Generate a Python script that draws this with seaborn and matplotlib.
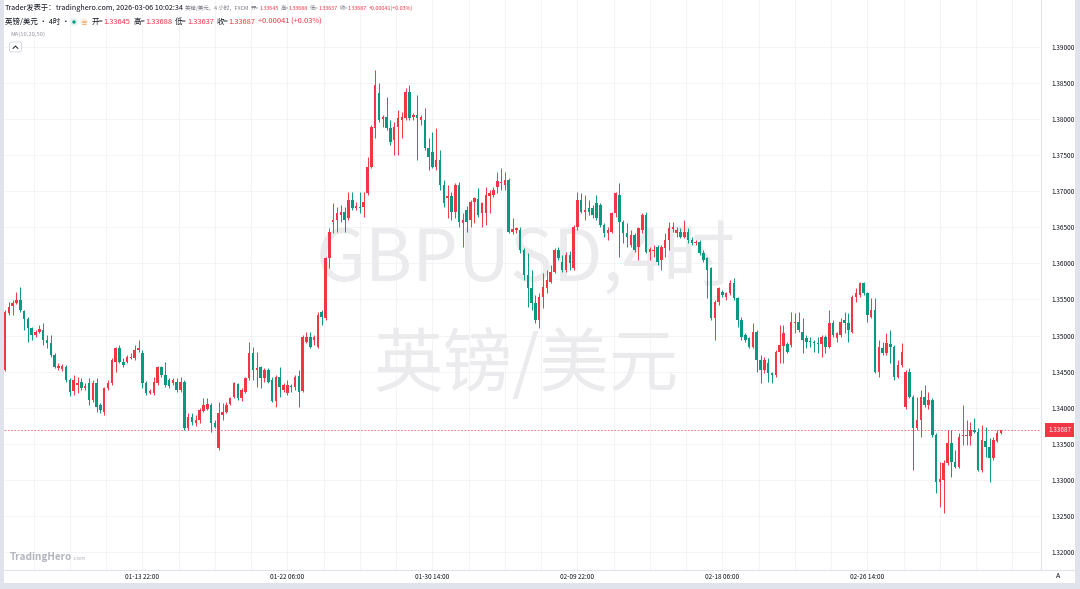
import numpy as np
import matplotlib
matplotlib.use("Agg")
import matplotlib.pyplot as plt
import seaborn as sns
from matplotlib.patches import Rectangle, FancyBboxPatch, Circle

# ---------------- data (GBPUSD 4H candles) ----------------
open_ = [
    1.3452, 1.3531, 1.3541, 1.3545, 1.3549, 1.3534, 1.3523, 1.3510, 1.3501, 1.3505,
    1.3508, 1.3494, 1.3490, 1.3473, 1.3455, 1.3454, 1.3456, 1.3438, 1.3423, 1.3431,
    1.3436, 1.3427, 1.3434, 1.3411, 1.3434, 1.3404, 1.3394, 1.3427, 1.3434, 1.3463,
    1.3483, 1.3463, 1.3463, 1.3469, 1.3469, 1.3480, 1.3476, 1.3434, 1.3420, 1.3420,
    1.3434, 1.3456, 1.3445, 1.3438, 1.3434, 1.3436, 1.3425, 1.3436, 1.3372, 1.3387,
    1.3379, 1.3383, 1.3395, 1.3398, 1.3404, 1.3379, 1.3344, 1.3390, 1.3394, 1.3405,
    1.3415, 1.3433, 1.3413, 1.3422, 1.3441, 1.3476, 1.3452, 1.3456, 1.3441, 1.3452,
    1.3438, 1.3409, 1.3443, 1.3425, 1.3420, 1.3430, 1.3429, 1.3444, 1.3423, 1.3491,
    1.3498, 1.3494, 1.3484, 1.3533, 1.3524, 1.3608, 1.3657, 1.3660, 1.3667, 1.3671,
    1.3663, 1.3688, 1.3677, 1.3678, 1.3678, 1.3698, 1.3734, 1.3788, 1.3836, 1.3800,
    1.3803, 1.3788, 1.3771, 1.3789, 1.3799, 1.3802, 1.3838, 1.3803, 1.3806, 1.3799,
    1.3799, 1.3760, 1.3754, 1.3734, 1.3743, 1.3709, 1.3691, 1.3693, 1.3671, 1.3709,
    1.3656, 1.3674, 1.3660, 1.3685, 1.3689, 1.3670, 1.3670, 1.3693, 1.3695, 1.3706,
    1.3711, 1.3709, 1.3716, 1.3644, 1.3646, 1.3646, 1.3619, 1.3584, 1.3566, 1.3545,
    1.3522, 1.3553, 1.3566, 1.3574, 1.3588, 1.3619, 1.3602, 1.3591, 1.3612, 1.3594,
    1.3651, 1.3688, 1.3671, 1.3677, 1.3677, 1.3684, 1.3681, 1.3653, 1.3642, 1.3644,
    1.3670, 1.3695, 1.3657, 1.3642, 1.3626, 1.3639, 1.3623, 1.3646, 1.3667, 1.3616,
    1.3617, 1.3623, 1.3605, 1.3621, 1.3632, 1.3648, 1.3642, 1.3644, 1.3637, 1.3644,
    1.3632, 1.3628, 1.3630, 1.3614, 1.3608, 1.3594, 1.3524, 1.3547, 1.3560, 1.3553,
    1.3559, 1.3573, 1.3552, 1.3522, 1.3501, 1.3497, 1.3484, 1.3505, 1.3466, 1.3452,
    1.3462, 1.3448, 1.3445, 1.3477, 1.3486, 1.3488, 1.3487, 1.3517, 1.3519, 1.3505,
    1.3497, 1.3492, 1.3491, 1.3490, 1.3488, 1.3498, 1.3484, 1.3517, 1.3497, 1.3501,
    1.3522, 1.3517, 1.3505, 1.3553, 1.3556, 1.3573, 1.3559, 1.3526, 1.3535, 1.3450,
    1.3483, 1.3476, 1.3488, 1.3484, 1.3443, 1.3459, 1.3401, 1.3450, 1.3415, 1.3372,
    1.3383, 1.3415, 1.3404, 1.3411, 1.3362, 1.3297, 1.3300, 1.3323, 1.3351, 1.3325,
    1.3318, 1.3361, 1.3361, 1.3361, 1.3369, 1.3366, 1.3314, 1.3354, 1.3346, 1.3330,
    1.3354, 1.33645,
]
high = [
    1.3535, 1.3547, 1.3549, 1.3560, 1.3567, 1.3535, 1.3526, 1.3512, 1.3508, 1.3515,
    1.3517, 1.3501, 1.3501, 1.3476, 1.3462, 1.3461, 1.3459, 1.3441, 1.3445, 1.3443,
    1.3441, 1.3434, 1.3441, 1.3438, 1.3441, 1.3407, 1.3429, 1.3438, 1.3469, 1.3484,
    1.3487, 1.3469, 1.3473, 1.3476, 1.3487, 1.3494, 1.3480, 1.3437, 1.3426, 1.3443,
    1.3458, 1.3458, 1.3463, 1.3441, 1.3441, 1.3441, 1.3443, 1.3438, 1.3393, 1.3393,
    1.3390, 1.3400, 1.3413, 1.3413, 1.3407, 1.3383, 1.3408, 1.3407, 1.3408, 1.3415,
    1.3436, 1.3434, 1.3427, 1.3443, 1.3491, 1.3484, 1.3477, 1.3458, 1.3455, 1.3455,
    1.3443, 1.3445, 1.3456, 1.3434, 1.3438, 1.3433, 1.3445, 1.3452, 1.3501, 1.3505,
    1.3505, 1.3501, 1.3533, 1.3535, 1.3609, 1.3649, 1.3684, 1.3678, 1.3681, 1.3678,
    1.3699, 1.3699, 1.3685, 1.3699, 1.3699, 1.3748, 1.3792, 1.3868, 1.3850, 1.3806,
    1.3831, 1.3799, 1.3796, 1.3813, 1.3810, 1.3843, 1.3847, 1.3809, 1.3833, 1.3806,
    1.3815, 1.3774, 1.3782, 1.3788, 1.3757, 1.3716, 1.3709, 1.3699, 1.3711, 1.3713,
    1.3670, 1.3680, 1.3688, 1.3692, 1.3705, 1.3685, 1.3706, 1.3702, 1.3706, 1.3727,
    1.3732, 1.3727, 1.3718, 1.3663, 1.3651, 1.3651, 1.3621, 1.3614, 1.3591, 1.3556,
    1.3559, 1.3587, 1.3591, 1.3598, 1.3621, 1.3623, 1.3612, 1.3616, 1.3617, 1.3653,
    1.3699, 1.3698, 1.3695, 1.3688, 1.3681, 1.3695, 1.3684, 1.3656, 1.3651, 1.3671,
    1.3699, 1.3711, 1.3660, 1.3656, 1.3646, 1.3642, 1.3651, 1.3670, 1.3671, 1.3623,
    1.3626, 1.3626, 1.3626, 1.3642, 1.3657, 1.3657, 1.3651, 1.3649, 1.3660, 1.3649,
    1.3637, 1.3632, 1.3632, 1.3619, 1.3609, 1.3595, 1.3549, 1.3567, 1.3563, 1.3560,
    1.3577, 1.3580, 1.3553, 1.3526, 1.3504, 1.3498, 1.3517, 1.3508, 1.3473, 1.3470,
    1.3469, 1.3450, 1.3480, 1.3515, 1.3515, 1.3491, 1.3533, 1.3531, 1.3533, 1.3524,
    1.3501, 1.3498, 1.3494, 1.3498, 1.3501, 1.3501, 1.3535, 1.3522, 1.3505, 1.3524,
    1.3533, 1.3531, 1.3556, 1.3566, 1.3574, 1.3574, 1.3560, 1.3552, 1.3552, 1.3494,
    1.3491, 1.3504, 1.3508, 1.3487, 1.3466, 1.3490, 1.3452, 1.3455, 1.3418, 1.3415,
    1.3425, 1.3431, 1.3422, 1.3413, 1.3365, 1.3325, 1.3327, 1.3369, 1.3369, 1.3341,
    1.3365, 1.3404, 1.3383, 1.3380, 1.3386, 1.3372, 1.3376, 1.3373, 1.3358, 1.3359,
    1.3369, 1.33688,
]
low = [
    1.3451, 1.3529, 1.3529, 1.3544, 1.3533, 1.3508, 1.3491, 1.3494, 1.3498, 1.3504,
    1.3487, 1.3483, 1.3470, 1.3455, 1.3452, 1.3451, 1.3436, 1.3416, 1.3418, 1.3420,
    1.3425, 1.3425, 1.3404, 1.3408, 1.3394, 1.3393, 1.3390, 1.3425, 1.3431, 1.3450,
    1.3462, 1.3456, 1.3462, 1.3467, 1.3466, 1.3477, 1.3427, 1.3418, 1.3419, 1.3418,
    1.3431, 1.3443, 1.3429, 1.3427, 1.3431, 1.3422, 1.3422, 1.3369, 1.3369, 1.3376,
    1.3375, 1.3379, 1.3394, 1.3397, 1.3366, 1.3372, 1.3341, 1.3383, 1.3393, 1.3404,
    1.3413, 1.3411, 1.3409, 1.3420, 1.3438, 1.3438, 1.3429, 1.3427, 1.3436, 1.3434,
    1.3408, 1.3401, 1.3415, 1.3422, 1.3418, 1.3422, 1.3425, 1.3401, 1.3422, 1.3490,
    1.3483, 1.3487, 1.3483, 1.3515, 1.3522, 1.3594, 1.3642, 1.3644, 1.3657, 1.3644,
    1.3660, 1.3674, 1.3674, 1.3670, 1.3664, 1.3695, 1.3732, 1.3774, 1.3796, 1.3789,
    1.3785, 1.3764, 1.3750, 1.3750, 1.3774, 1.3799, 1.3799, 1.3799, 1.3743, 1.3792,
    1.3757, 1.3730, 1.3732, 1.3730, 1.3702, 1.3678, 1.3663, 1.3660, 1.3663, 1.3651,
    1.3623, 1.3644, 1.3651, 1.3656, 1.3664, 1.3651, 1.3653, 1.3670, 1.3692, 1.3698,
    1.3702, 1.3702, 1.3642, 1.3641, 1.3642, 1.3614, 1.3577, 1.3540, 1.3535, 1.3517,
    1.3510, 1.3538, 1.3559, 1.3573, 1.3587, 1.3605, 1.3588, 1.3588, 1.3591, 1.3591,
    1.3646, 1.3670, 1.3660, 1.3667, 1.3663, 1.3660, 1.3651, 1.3637, 1.3632, 1.3642,
    1.3664, 1.3609, 1.3628, 1.3623, 1.3623, 1.3616, 1.3605, 1.3642, 1.3614, 1.3605,
    1.3609, 1.3598, 1.3591, 1.3609, 1.3619, 1.3644, 1.3637, 1.3635, 1.3635, 1.3628,
    1.3626, 1.3626, 1.3612, 1.3602, 1.3552, 1.3522, 1.3494, 1.3542, 1.3553, 1.3549,
    1.3556, 1.3549, 1.3512, 1.3494, 1.3491, 1.3483, 1.3483, 1.3450, 1.3434, 1.3448,
    1.3436, 1.3434, 1.3443, 1.3462, 1.3462, 1.3476, 1.3484, 1.3504, 1.3505, 1.3476,
    1.3483, 1.3484, 1.3477, 1.3476, 1.3470, 1.3476, 1.3483, 1.3498, 1.3491, 1.3498,
    1.3504, 1.3491, 1.3504, 1.3547, 1.3553, 1.3556, 1.3519, 1.3524, 1.3448, 1.3443,
    1.3473, 1.3473, 1.3462, 1.3438, 1.3441, 1.3456, 1.3398, 1.3413, 1.3314, 1.3369,
    1.3359, 1.3401, 1.3398, 1.3359, 1.3282, 1.3262, 1.3254, 1.3321, 1.3304, 1.3316,
    1.3316, 1.3348, 1.3348, 1.3348, 1.3365, 1.3312, 1.3311, 1.3332, 1.3297, 1.3327,
    1.3352, 1.33637,
]
close = [
    1.3533, 1.3540, 1.3545, 1.3549, 1.3535, 1.3523, 1.3510, 1.3501, 1.3505, 1.3509,
    1.3494, 1.3490, 1.3473, 1.3456, 1.3458, 1.3458, 1.3438, 1.3422, 1.3438, 1.3434,
    1.3427, 1.3430, 1.3411, 1.3434, 1.3401, 1.3397, 1.3427, 1.3434, 1.3466, 1.3483,
    1.3463, 1.3459, 1.3470, 1.3470, 1.3480, 1.3483, 1.3434, 1.3420, 1.3423, 1.3436,
    1.3456, 1.3445, 1.3431, 1.3430, 1.3438, 1.3425, 1.3436, 1.3372, 1.3387, 1.3380,
    1.3383, 1.3397, 1.3404, 1.3405, 1.3379, 1.3373, 1.3393, 1.3394, 1.3404, 1.3413,
    1.3434, 1.3413, 1.3425, 1.3441, 1.3476, 1.3452, 1.3455, 1.3441, 1.3452, 1.3436,
    1.3409, 1.3443, 1.3429, 1.3431, 1.3431, 1.3429, 1.3443, 1.3422, 1.3498, 1.3498,
    1.3484, 1.3498, 1.3529, 1.3526, 1.3608, 1.3644, 1.3660, 1.3670, 1.3671, 1.3660,
    1.3688, 1.3677, 1.3680, 1.3677, 1.3685, 1.3734, 1.3789, 1.3847, 1.3799, 1.3803,
    1.3788, 1.3768, 1.3789, 1.3802, 1.3803, 1.3838, 1.3802, 1.3806, 1.3802, 1.3803,
    1.3760, 1.3748, 1.3734, 1.3743, 1.3709, 1.3684, 1.3693, 1.3671, 1.3709, 1.3657,
    1.3660, 1.3657, 1.3685, 1.3691, 1.3667, 1.3684, 1.3695, 1.3698, 1.3702, 1.3714,
    1.3713, 1.3716, 1.3644, 1.3648, 1.3649, 1.3619, 1.3584, 1.3566, 1.3545, 1.3522,
    1.3553, 1.3567, 1.3577, 1.3588, 1.3619, 1.3608, 1.3591, 1.3612, 1.3601, 1.3651,
    1.3688, 1.3671, 1.3674, 1.3671, 1.3667, 1.3663, 1.3653, 1.3642, 1.3646, 1.3670,
    1.3698, 1.3657, 1.3642, 1.3637, 1.3639, 1.3619, 1.3649, 1.3667, 1.3616, 1.3620,
    1.3619, 1.3602, 1.3623, 1.3632, 1.3649, 1.3651, 1.3646, 1.3637, 1.3644, 1.3632,
    1.3628, 1.3630, 1.3614, 1.3605, 1.3591, 1.3524, 1.3547, 1.3566, 1.3556, 1.3559,
    1.3573, 1.3552, 1.3522, 1.3498, 1.3494, 1.3484, 1.3505, 1.3466, 1.3452, 1.3466,
    1.3448, 1.3445, 1.3477, 1.3487, 1.3504, 1.3477, 1.3519, 1.3519, 1.3508, 1.3494,
    1.3491, 1.3491, 1.3490, 1.3488, 1.3498, 1.3484, 1.3517, 1.3501, 1.3504, 1.3519,
    1.3517, 1.3508, 1.3553, 1.3559, 1.3573, 1.3559, 1.3529, 1.3535, 1.3450, 1.3484,
    1.3476, 1.3490, 1.3484, 1.3443, 1.3459, 1.3477, 1.3450, 1.3415, 1.3372, 1.3383,
    1.3415, 1.3404, 1.3411, 1.3362, 1.3297, 1.3301, 1.3323, 1.3351, 1.3325, 1.3318,
    1.3359, 1.3362, 1.3362, 1.3369, 1.3366, 1.3314, 1.3355, 1.3346, 1.3330, 1.3355,
    1.3365, 1.33687,
]
tick_bars = [36, 74, 112, 150, 188, 226]
tick_labels = ["01-13 22:00", "01-22 06:00", "01-30 14:00", "02-09 22:00", "02-18 06:00", "02-26 14:00"]
price_ticks = [1.320, 1.325, 1.330, 1.335, 1.340, 1.345, 1.350, 1.355, 1.360, 1.365, 1.370, 1.375, 1.380, 1.385, 1.390]
last_price = 1.33687

# ---------------- style ----------------
sns.set_theme(style="white")
plt.rcParams["font.family"] = ["Noto Sans CJK SC", "DejaVu Sans"]

RED = "#f23645"
GREEN = "#089981"
DARK = "#131722"
GREY = "#787b86"
W, H = 1080, 589

fig = plt.figure(figsize=(W / 100, H / 100), dpi=100, facecolor="#e0e3eb")
fig.patches.append(Rectangle((4 / W, 6 / H), 1071 / W, 583 / H, transform=fig.transFigure,
                             facecolor="white", edgecolor="none", zorder=-5))

ax = fig.add_axes([4 / W, (H - 570) / H, 1036 / W, 570 / H])
ax.set_facecolor("white")
n = len(close)
x = np.arange(n)
o = np.array(open_); c = np.array(close); hi = np.array(high); lo = np.array(low)
up = c >= o
cols = np.where(up, RED, GREEN)

# bar spacing 3.816 px, first bar at x=5 px
ax.set_xlim((4 - 5) / 3.816, (1040 - 5) / 3.816)
ax.set_ylim(1.39 - 523 * 0.00013862, 1.39 + 47 * 0.00013862)

# grid
for p in price_ticks:
    ax.axhline(p, color="#f2f3f6", lw=0.6, zorder=0)
for g in np.arange(36 - 9.5 * 4, n + 20, 9.5):
    ax.axvline(g, color="#f2f3f6", lw=0.6, zorder=0)

# candles
ax.vlines(x, lo, hi, colors=cols, linewidth=0.7, zorder=3)
body = np.maximum(np.abs(c - o), 0.00006)
ax.bar(x, body, bottom=np.minimum(o, c), width=0.66, color=cols, linewidth=0, zorder=4)

# last price line
ax.axhline(last_price, color=RED, lw=0.6, ls=(0, (2, 2)), alpha=0.8, zorder=2)

# axes styling
for s in ax.spines.values():
    s.set_visible(False)
ax.yaxis.tick_right()
ax.set_yticks(price_ticks)
ax.set_yticklabels([f"{p:.5f}" for p in price_ticks])
ax.tick_params(axis="y", length=0, pad=8, labelsize=4.6, labelcolor=DARK)
ax.set_xticks(tick_bars)
ax.set_xticklabels(tick_labels)
ax.tick_params(axis="x", length=0, pad=2.5, labelsize=4.6, labelcolor=DARK)

# overlay in pixel coordinates
ov = fig.add_axes([0, 0, 1, 1], facecolor="none")
ov.set_xlim(0, W)
ov.set_ylim(H, 0)
ov.axis("off")
ov.set_zorder(5)

# watermark (behind candles)
ax.text(526, 260, "GBPUSD,4时", transform=ov.transData, fontsize=52, color="#ebebee",
        ha="center", va="center", zorder=1)
ax.text(526, 366, "英镑/美元", transform=ov.transData, fontsize=50, color="#ebebee",
        ha="center", va="center", zorder=1)

# separators
ov.plot([4, 1075], [570, 570], color="#e0e3eb", lw=0.8)
ov.plot([1041, 1041], [0, 570], color="#e0e3eb", lw=0.8)

# last price tag
ax.annotate("1.33687", xy=(1.0, last_price), xycoords=("axes fraction", "data"),
            xytext=(19.5, 0), textcoords="offset pixels", ha="center", va="center",
            fontsize=4.6, color="white",
            bbox=dict(boxstyle="square,pad=0.45", fc=RED, ec="none"), annotation_clip=False)

fig.canvas.draw()
rend = fig.canvas.get_renderer()


def seq(x0, y0, parts):
    xx = x0
    for txt, size, color, gap, weight in parts:
        t = ov.text(xx, y0, txt, fontsize=size, color=color, ha="left", va="center", fontweight=weight)
        bb = t.get_window_extent(renderer=rend)
        xx += bb.width + gap
    return xx


s1, s2 = 5.2, 3.9
seq(5, 8, [
    ("Trader发表于：", s1, DARK, 0, "normal"),
    ("tradinghero.com, 2026-03-06 10:02:34", s1, DARK, 2, "normal"),
    ("英镑/美元，4 小时，FXCM", s2, GREY, 2, "normal"),
    ("开=", s2, GREY, 0, "normal"), ("1.33645", s2, RED, 2, "normal"),
    ("高=", s2, GREY, 0, "normal"), ("1.33688", s2, RED, 2, "normal"),
    ("低=", s2, GREY, 0, "normal"), ("1.33637", s2, RED, 2, "normal"),
    ("收=", s2, GREY, 0, "normal"), ("1.33687", s2, RED, 2, "normal"),
    ("+0.00041(+0.03%)", s2, RED, 0, "normal"),
])

s3 = 5.4
seq(5, 22, [("英镑/美元 • 4时 •", s3, DARK, 0, "normal")])
ov.add_patch(Circle((74, 22), 4.0, facecolor="#e3f4f0", edgecolor="none"))
ov.add_patch(Circle((74, 22), 1.7, facecolor=GREEN, edgecolor="none"))
ov.add_patch(FancyBboxPatch((80.5, 18.5), 7, 7, boxstyle="round,pad=0,rounding_size=2.5",
                            facecolor="#fbeee0", edgecolor="none"))
for yy in (20.5, 22, 23.5):
    ov.plot([82, 86], [yy, yy], color="#f0a35e", lw=0.5)
seq(92, 22, [
    ("开=", s3, DARK, 0, "normal"), ("1.33645", s3, RED, 3, "normal"),
    ("高=", s3, DARK, 0, "normal"), ("1.33688", s3, RED, 3, "normal"),
    ("低=", s3, DARK, 0, "normal"), ("1.33637", s3, RED, 3, "normal"),
    ("收=", s3, DARK, 0, "normal"), ("1.33687", s3, RED, 3, "normal"),
    ("+0.00041 (+0.03%)", s3, RED, 0, "normal"),
])
ov.text(10, 34, "MA(10,20,50)", fontsize=4.2, color="#9598a1", ha="left", va="center")

# collapse button
ov.add_patch(FancyBboxPatch((9.5, 42), 12, 10, boxstyle="round,pad=0,rounding_size=2",
                            facecolor="white", edgecolor="#d1d4dc", lw=0.6))
ov.plot([13, 15.5, 18], [48.5, 46, 48.5], color=DARK, lw=0.7)

# logo bottom left
xe = seq(10, 557, [("TradingHero", 7.2, "#b2b5be", 0, "bold")])
ov.text(xe, 558.5, ".com", fontsize=4.3, color="#b2b5be", ha="left", va="center")

# "A" auto-scale button
ov.text(1058, 576, "A", fontsize=5, color=DARK, ha="center", va="center")

fig.savefig("out.png", dpi=100, facecolor=fig.get_facecolor())
